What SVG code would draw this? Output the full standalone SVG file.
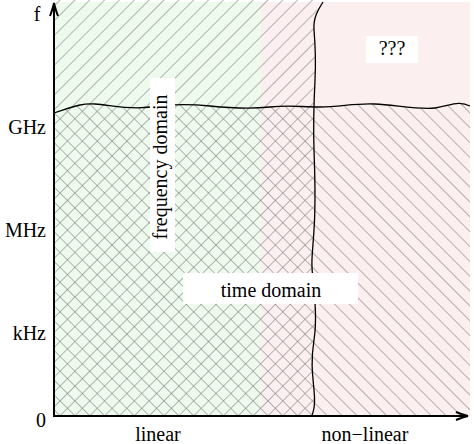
<svg xmlns="http://www.w3.org/2000/svg" width="474" height="444" viewBox="0 0 474 444">
  <style>
    .lbl { font-family: "Liberation Serif", "Times New Roman", serif; font-size: 20px; fill: #000; }
    .wave { fill: none; stroke: #000; stroke-width: 1.3; }
    .axis { fill: none; stroke: #000; stroke-width: 2; }
    .hatch { stroke: #7c7c7c; stroke-width: 1.1; }
    .box { fill: #fff; }
  </style>
  <defs>
    <pattern id="hatchF" patternUnits="userSpaceOnUse" width="10.5" height="10.5" patternTransform="rotate(45)">
      <line class="hatch" x1="0" y1="-1" x2="0" y2="12"/>
    </pattern>
    <pattern id="hatchB" patternUnits="userSpaceOnUse" width="10.5" height="10.5" patternTransform="rotate(-45)">
      <line class="hatch" x1="0" y1="-1" x2="0" y2="12"/>
    </pattern>
    <clipPath id="leftOfWave">
      <path d="M54,0 L323,0 L323,2 C318,10 313,18 314,30 S316,60 315,80 S313,120 314,150 S316,200 314,230 S311,260 313,280 S317,320 314,340 S312,370 314,390 S313,410 312,416 L54,416 Z"/>
    </clipPath>
    <clipPath id="belowWave">
      <path d="M54,113 C70,108 80,103 95,104 S130,110 150,107 S190,104 210,106 S250,109 270,107 S300,107 320,107 S355,103 375,104 S420,110 435,108 S458,100 470,106 L470,416 L54,416 Z"/>
    </clipPath>
  </defs>

  <g id="background">
    <rect x="54" y="2" width="207" height="414" fill="#effaef"/>
    <rect x="261" y="2" width="209" height="414" fill="#fcefef"/>
    <rect x="54" y="0" width="416" height="416" fill="url(#hatchF)" clip-path="url(#leftOfWave)"/>
    <rect x="54" y="0" width="416" height="416" fill="url(#hatchB)" clip-path="url(#belowWave)"/>
  </g>

  <g id="connectors">
    <path id="ghz-boundary" class="wave" d="M54,113 C70,108 80,103 95,104 S130,110 150,107 S190,104 210,106 S250,109 270,107 S300,107 320,107 S355,103 375,104 S420,110 435,108 S458,100 470,106"/>
    <path id="nonlinear-boundary" class="wave" d="M323,2 C318,10 313,18 314,30 S316,60 315,80 S313,120 314,150 S316,200 314,230 S311,260 313,280 S317,320 314,340 S312,370 314,390 S313,410 312,416"/>
    <path id="y-axis" class="axis" d="M54,417 L54,3"/>
    <path class="axis" stroke-width="1.5" d="M50,16 Q53,8 54,3 Q55,8 58,16"/>
    <path id="x-axis" class="axis" d="M53,416 L468,416"/>
    <path class="axis" stroke-width="1.5" d="M456,412 Q463,415 468,416 Q463,417 456,420"/>
  </g>

  <g id="axis-labels">
    <text class="lbl" x="37" y="21" text-anchor="middle">f</text>
    <text class="lbl" x="46" y="134" text-anchor="end">GHz</text>
    <text class="lbl" x="46" y="237" text-anchor="end">MHz</text>
    <text class="lbl" x="46" y="340" text-anchor="end">kHz</text>
    <text class="lbl" x="46" y="427" text-anchor="end">0</text>
    <text class="lbl" x="158" y="441" text-anchor="middle">linear</text>
    <text class="lbl" x="365" y="441" text-anchor="middle">non−linear</text>
  </g>

  <g id="frequency-domain">
    <rect class="box" x="150" y="78" width="25" height="174"/>
    <text class="lbl" transform="translate(167,167) rotate(-90)" text-anchor="middle">frequency domain</text>
  </g>

  <g id="time-domain">
    <rect class="box" x="183" y="273" width="175" height="31"/>
    <text class="lbl" x="271" y="297" text-anchor="middle">time domain</text>
  </g>

  <g id="unknown">
    <rect class="box" x="366" y="36" width="52" height="27"/>
    <text class="lbl" x="392" y="55" text-anchor="middle">???</text>
  </g>
</svg>
